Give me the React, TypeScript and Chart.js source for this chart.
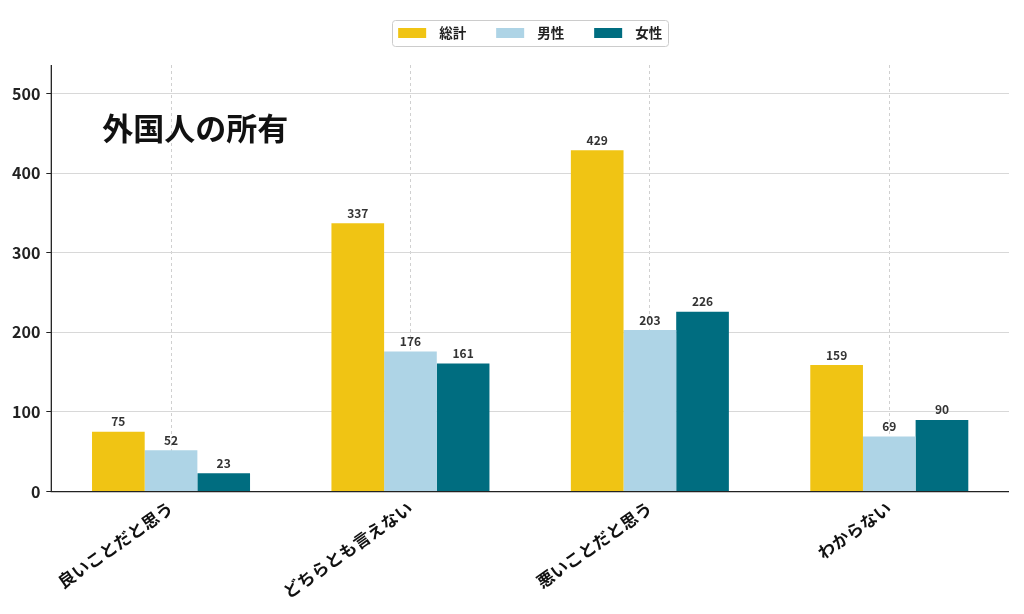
import React, { useEffect, useRef } from "react";
import { Chart, registerables } from "chart.js";

Chart.register(...registerables);

const categories = ["良いことだと思う", "どちらとも言えない", "悪いことだと思う", "わからない"];
const totalValues = [75, 337, 429, 159];
const maleValues = [52, 176, 203, 69];
const femaleValues = [23, 161, 226, 90];
const seriesNames = ["総計", "男性", "女性"];
const seriesColors = ["#F0C414", "#AED4E6", "#006D80"];
const yTicks = [0, 100, 200, 300, 400, 500];
const chartTitle = "外国人の所有";

const FONT = "'Noto Sans CJK JP', 'Noto Sans', sans-serif";

const valueLabelPlugin = {
  id: "valueLabels",
  afterDatasetsDraw(chart: any) {
    const ctx = chart.ctx;
    ctx.save();
    ctx.font = `bold 12px ${FONT}`;
    ctx.fillStyle = "#333333";
    ctx.textAlign = "center";
    ctx.textBaseline = "bottom";
    chart.data.datasets.forEach((ds: any, i: number) => {
      const meta = chart.getDatasetMeta(i);
      meta.data.forEach((bar: any, j: number) => {
        ctx.fillText(String(ds.data[j]), bar.x, bar.y - 4);
      });
    });
    ctx.restore();
  },
};

const titlePlugin = {
  id: "innerTitle",
  afterDraw(chart: any) {
    const ctx = chart.ctx;
    const area = chart.chartArea;
    ctx.save();
    ctx.font = `bold 31px ${FONT}`;
    ctx.fillStyle = "#111111";
    ctx.textAlign = "left";
    ctx.textBaseline = "middle";
    ctx.fillText(chartTitle, area.left + 51, 128);
    ctx.restore();
  },
};

const customLegendPlugin = {
  id: "customLegend",
  afterDraw(chart: any) {
    const ctx = chart.ctx;
    const area = chart.chartArea;
    const cy = 33;
    ctx.save();
    ctx.font = `bold 13.5px ${FONT}`;
    const boxW = 28, boxH = 10, gapText = 13, gapItem = 30, margin = 6;
    const widths = seriesNames.map((n) => ctx.measureText(n).width);
    const total = widths.reduce((s, w) => s + boxW + gapText + w, 0) + gapItem * (seriesNames.length - 1);
    const cx = (area.left + area.right) / 2;
    let x = cx - total / 2;
    const frameX = x - margin, frameW = total + margin * 2;
    ctx.strokeStyle = "#cccccc";
    ctx.lineWidth = 1;
    ctx.beginPath();
    (ctx as any).roundRect(Math.round(frameX) + 0.5, 20.5, Math.round(frameW), 26, 3);
    ctx.stroke();
    ctx.textAlign = "left";
    ctx.textBaseline = "middle";
    seriesNames.forEach((n, i) => {
      ctx.fillStyle = seriesColors[i];
      ctx.fillRect(x, cy - boxH / 2, boxW, boxH);
      ctx.fillStyle = "#222222";
      ctx.fillText(n, x + boxW + gapText, cy);
      x += boxW + gapText + widths[i] + gapItem;
    });
    ctx.restore();
  },
};

const axisPlugin = {
  id: "axisLines",
  afterDatasetsDraw(chart: any) {
    const ctx = chart.ctx;
    const a = chart.chartArea;
    ctx.save();
    ctx.strokeStyle = "#222222";
    ctx.lineWidth = 1.3;
    ctx.beginPath();
    ctx.moveTo(a.left, a.top);
    ctx.lineTo(a.left, a.bottom);
    ctx.lineTo(a.right, a.bottom);
    ctx.stroke();
    ctx.restore();
  },
};

export default function App() {
  const ref = useRef<HTMLCanvasElement | null>(null);
  useEffect(() => {
    if (!ref.current) return;
    const chart = new Chart(ref.current, {
      type: "bar",
      data: {
        labels: categories,
        datasets: [
          { label: seriesNames[0], data: totalValues, backgroundColor: seriesColors[0] },
          { label: seriesNames[1], data: maleValues, backgroundColor: seriesColors[1] },
          { label: seriesNames[2], data: femaleValues, backgroundColor: seriesColors[2] },
        ],
      },
      options: {
        animation: false,
        responsive: false,
        maintainAspectRatio: false,
        layout: { padding: { left: 6, right: 15, top: 65, bottom: 6 } },
        datasets: {
          bar: { barPercentage: 1.0, categoryPercentage: 0.66 },
        },
        plugins: {
          legend: { display: false },
          tooltip: { enabled: false },
          title: { display: false },
        },
        scales: {
          x: {
            grid: {
              display: true,
              color: "#d0d0d0",
              lineWidth: 1,
              offset: false,
              drawTicks: false,
            } as any,
            border: { display: false, dash: [3, 3] } as any,
            ticks: {
              minRotation: 35,
              maxRotation: 35,
              padding: 6,
              color: "#111111",
              font: { family: FONT, size: 17, weight: "bold" },
            },
          },
          y: {
            min: 0,
            max: 536,
            afterBuildTicks: (axis: any) => {
              axis.ticks = yTicks.map((v) => ({ value: v }));
            },
            grid: { color: "#d8d8d8", lineWidth: 1, drawTicks: true, tickLength: 5, tickColor: "#222222" },
            border: { display: false },
            ticks: {
              padding: 6,
              color: "#222222",
              font: { family: FONT, size: 16, weight: "bold" },
            },
          },
        },
      },
      plugins: [valueLabelPlugin, titlePlugin, customLegendPlugin, axisPlugin],
    });
    return () => chart.destroy();
  }, []);
  return (
    <div style={{ position: "fixed", left: 0, top: 0, width: 1024, height: 614, background: "#fff" }}>
      <canvas ref={ref} width={1024} height={614} style={{ width: 1024, height: 614 }} />
    </div>
  );
}
